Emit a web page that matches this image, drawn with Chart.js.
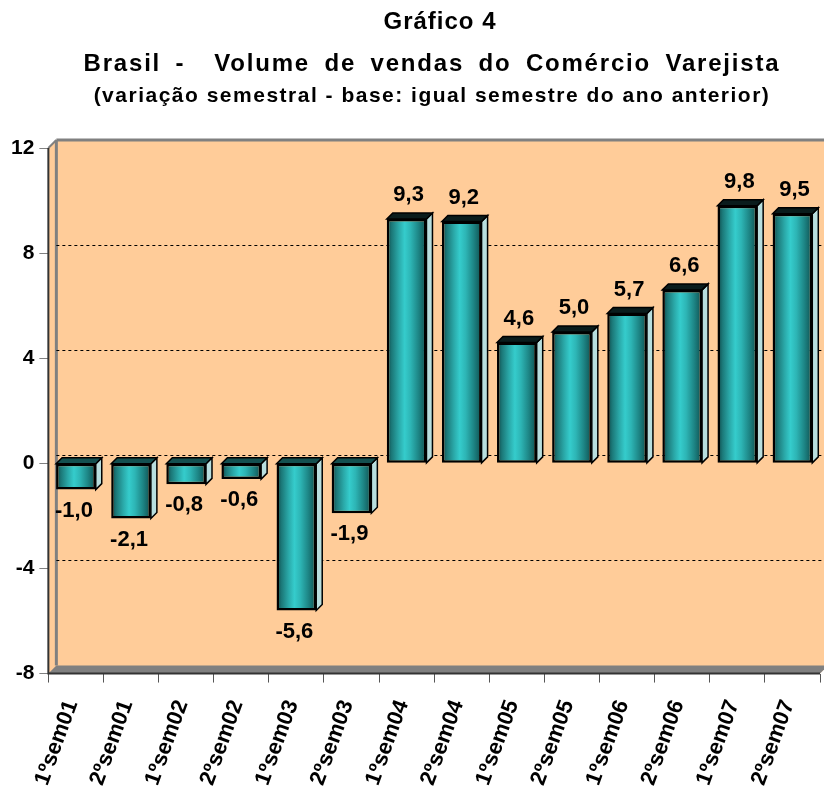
<!DOCTYPE html>
<html>
<head>
<meta charset="utf-8">
<script src="https://cdn.jsdelivr.net/npm/chart.js@4"></script>
<style>
  body { margin: 0; background: #fff; overflow: hidden; }
  #wrap { position: relative; width: 824px; height: 790px; }
  #chart { position: absolute; left: 0; top: 0; }
  .t { position: absolute; left: 20px; width: 824px; text-align: center; font-family: Arial, "Liberation Sans", sans-serif; font-weight: bold; color: #000; white-space: nowrap; line-height: normal; }
  #t1 { top: 7px; left: 28px; font-size: 24px; letter-spacing: 1px; }
  #t2 { top: 49px; font-size: 24px; letter-spacing: 1.8px; word-spacing: 6px; }
  #t3 { top: 83px; font-size: 21px; letter-spacing: 1.5px; }
</style>
</head>
<body>
<div id="wrap">
  <canvas id="chart" width="824" height="790"></canvas>
  <div class="t" id="t1">Gráfico 4</div>
  <div class="t" id="t2">Brasil -&nbsp; Volume de vendas do Comércio Varejista</div>
  <div class="t" id="t3">(variação semestral - base: igual semestre do ano anterior)</div>
</div>
<script>
// dados do gráfico
const categorias = ['1ºsem01','2ºsem01','1ºsem02','2ºsem02','1ºsem03','2ºsem03','1ºsem04',
                    '2ºsem04','1ºsem05','2ºsem05','1ºsem06','2ºsem06','1ºsem07','2ºsem07'];
const variacao = [-1.0, -2.1, -0.8, -0.6, -5.6, -1.9, 9.3, 9.2, 4.6, 5.0, 5.7, 6.6, 9.8, 9.5];
const ticksY = [-8, -4, 0, 4, 8, 12];

const FONTE = 'Arial, "Liberation Sans", sans-serif';
const PESSEGO = '#FFCC99';
const CINZA = '#808080';
const PROF = 8;     // profundidade da parede
const PROF_BAR = 6; // profundidade das barras
const LARG_BAR = 0.72;

// gradiente da face frontal (calculado a partir da escala x)
function corBarra(c) {
    const s = c.chart.scales.x;
    if (!s || !c.chart.chartArea) return '#2aa8a8';
    const cx = s.getPixelForValue(c.dataIndex);
    const w = s.width / categorias.length * LARG_BAR;
    const g = c.chart.ctx.createLinearGradient(cx - w / 2, 0, cx + w / 2, 0);
    g.addColorStop(0, '#0c4444');
    g.addColorStop(0.12, '#1b7777');
    g.addColorStop(0.3, '#2aa8a8');
    g.addColorStop(0.45, '#35cccc');
    g.addColorStop(0.6, '#2db5b5');
    g.addColorStop(0.8, '#1d8585');
    g.addColorStop(1, '#0f4f4f');
    return g;
}

// parede, chão e linhas de grade tracejadas
const fundo3D = {
    id: 'fundo3D',
    beforeDatasetsDraw(chart) {
        const { ctx, chartArea: { left, top, right, bottom } } = chart;
        const y = chart.scales.y;
        ctx.save();
        ctx.fillStyle = PESSEGO;
        ctx.beginPath();
        ctx.moveTo(left, bottom);
        ctx.lineTo(left, top);
        ctx.lineTo(left + PROF, top - PROF);
        ctx.lineTo(right + PROF, top - PROF);
        ctx.lineTo(right + PROF, bottom - PROF);
        ctx.lineTo(right, bottom);
        ctx.closePath();
        ctx.fill();

        // chão
        ctx.fillStyle = CINZA;
        ctx.beginPath();
        ctx.moveTo(left, bottom);
        ctx.lineTo(left + PROF, bottom - PROF);
        ctx.lineTo(right + PROF, bottom - PROF);
        ctx.lineTo(right, bottom);
        ctx.closePath();
        ctx.fill();

        ctx.strokeStyle = CINZA;
        ctx.lineWidth = 3;
        ctx.beginPath();
        ctx.moveTo(left + PROF, top - PROF);
        ctx.lineTo(right + PROF, top - PROF);
        ctx.moveTo(left + PROF, top - PROF);
        ctx.lineTo(left + PROF, bottom - PROF);
        ctx.stroke();
        ctx.lineWidth = 2;
        ctx.beginPath();
        ctx.moveTo(left, top);
        ctx.lineTo(left + PROF, top - PROF);
        ctx.stroke();

        // grade tracejada na parede do fundo
        ctx.strokeStyle = '#000';
        ctx.lineWidth = 1;
        ctx.setLineDash([3, 3]);
        y.ticks.forEach(t => {
            if (t.value <= y.min || t.value >= y.max) return;
            const py = Math.round(y.getPixelForValue(t.value) - PROF) + 0.5;
            ctx.beginPath();
            ctx.moveTo(left + PROF, py);
            ctx.lineTo(right + PROF, py);
            ctx.stroke();
        });
        ctx.setLineDash([]);

        // arestas da frente
        ctx.strokeStyle = '#333';
        ctx.lineWidth = 2;
        ctx.beginPath();
        ctx.moveTo(left, top);
        ctx.lineTo(left, bottom);
        ctx.lineTo(right, bottom);
        ctx.stroke();
        ctx.restore();
    }
};

// topo e lateral das barras + rótulos de valor
const barras3D = {
    id: 'barras3D',
    afterDatasetsDraw(chart) {
        const { ctx } = chart;
        const d = PROF_BAR;
        ctx.save();
        chart.getDatasetMeta(0).data.forEach((el, i) => {
            const { x, y, base, width } = el.getProps(['x', 'y', 'base', 'width'], true);
            const l = x - width / 2, r = x + width / 2;
            const yt = Math.min(y, base), yb = Math.max(y, base);

            ctx.lineWidth = 1.5;
            ctx.strokeStyle = '#000';
            // lateral
            ctx.fillStyle = '#b8dede';
            ctx.beginPath();
            ctx.moveTo(r, yt);
            ctx.lineTo(r + d, yt - d);
            ctx.lineTo(r + d, yb - d);
            ctx.lineTo(r, yb);
            ctx.closePath();
            ctx.fill();
            ctx.stroke();
            // topo
            ctx.fillStyle = variacao[i] >= 0 ? '#0a1c1c' : '#145050';
            ctx.beginPath();
            ctx.moveTo(l, yt);
            ctx.lineTo(l + d, yt - d);
            ctx.lineTo(r + d, yt - d);
            ctx.lineTo(r, yt);
            ctx.closePath();
            ctx.fill();
            ctx.stroke();

            // rótulo
            ctx.fillStyle = '#000';
            ctx.font = 'bold 22px ' + FONTE;
            ctx.textAlign = 'center';
            ctx.textBaseline = 'middle';
            const txt = variacao[i].toFixed(1).replace('.', ',');
            if (variacao[i] >= 0) ctx.fillText(txt, x + 2, y - 24);
            else ctx.fillText(txt, x - 2, y + 21);
        });
        ctx.restore();
    }
};

const ctx = document.getElementById('chart').getContext('2d');
new Chart(ctx, {
    type: 'bar',
    data: {
        labels: categorias,
        datasets: [{
            data: variacao,
            backgroundColor: corBarra,
            borderColor: '#000',
            borderWidth: 2.5,
            borderSkipped: false,
            categoryPercentage: 1,
            barPercentage: LARG_BAR
        }]
    },
    options: {
        responsive: false,
        animation: false,
        devicePixelRatio: 1,
        layout: { padding: { left: 6, right: 4, top: 148, bottom: 0 } },
        plugins: { legend: { display: false }, tooltip: { enabled: false } },
        scales: {
            x: {
                afterFit: s => { s.height -= 13; s.paddingRight = 0; },
                grid: { drawOnChartArea: false, drawTicks: true, tickLength: 9, color: '#555', offset: true },
                border: { display: false },
                ticks: {
                    autoSkip: false, maxRotation: 70, minRotation: 70, padding: 14, labelOffset: -4,
                    color: '#000', font: { family: FONTE, size: 22, weight: 'bold' }
                }
            },
            y: {
                min: -8, max: 12,
                afterBuildTicks: s => { s.ticks = ticksY.map(v => ({ value: v })); },
                grid: { drawOnChartArea: false, tickLength: 9, color: CINZA },
                border: { display: false },
                ticks: { padding: 5, color: '#000', font: { family: FONTE, size: 21, weight: 'bold' } }
            }
        }
    },
    plugins: [fundo3D, barras3D]
});
</script>
</body>
</html>
